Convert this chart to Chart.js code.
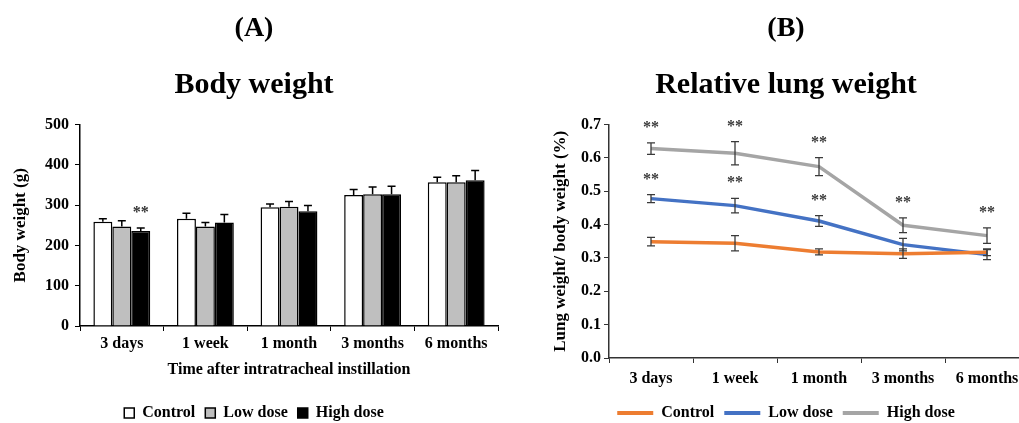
<!DOCTYPE html>
<html>
<head>
<meta charset="utf-8">
<script src="https://cdn.jsdelivr.net/npm/chart.js@4.4.1/dist/chart.umd.min.js"></script>
<style>
  html, body { margin: 0; padding: 0; background: #fff; }
  body { width: 1019px; height: 423px; overflow: hidden; position: relative; }
  .panel { position: absolute; top: 0; height: 431px; }
  #panelA { left: 0; width: 510px; }
  #panelB { left: 520px; width: 532px; }
</style>
</head>
<body>
<div class="panel" id="panelA"><canvas id="bodyChart"></canvas></div>
<div class="panel" id="panelB"><canvas id="lungChart"></canvas></div>
<script>
// categories (time after instillation)
const categories = ['3 days', '1 week', '1 month', '3 months', '6 months'];

// (A) body weight, g
const bwControl = [259, 266, 295, 325, 357];
const bwLow = [247, 247, 296, 327, 357];
const bwHigh = [236, 257, 285, 327, 362];
const bwControlSd = [7, 14, 8, 14, 12];
const bwLowSd = [14, 10, 13, 18, 16];
const bwHighSd = [7, 20, 14, 20, 24];
const bwHighStars = [true, false, false, false, false];
const bwTicks = [0, 100, 200, 300, 400, 500];

// (B) relative lung weight, %
const rlwControl = [0.349, 0.344, 0.318, 0.313, 0.317];
const rlwLow = [0.478, 0.457, 0.411, 0.340, 0.310];
const rlwHigh = [0.628, 0.614, 0.574, 0.398, 0.367];
const rlwControlSd = [0.013, 0.023, 0.009, 0.014, 0.010];
const rlwLowSd = [0.012, 0.022, 0.016, 0.019, 0.015];
const rlwHighSd = [0.017, 0.035, 0.027, 0.022, 0.023];
const rlwLowStars = [true, true, true, false, false];
const rlwHighStars = [true, true, true, true, true];
const rlwTicks = [0, 0.1, 0.2, 0.3, 0.4, 0.5, 0.6, 0.7];

Chart.defaults.font.family = "'Liberation Serif', 'Times New Roman', serif";
Chart.defaults.font.weight = 'bold';
Chart.defaults.color = '#000';
Chart.defaults.animation = false;

// draws SD whiskers and ** marks from dataset.errors / dataset.stars
const errorBars = {
    id: 'errorBars',
    afterDatasetsDraw(chart, args, opts) {
        const ctx = chart.ctx;
        const y = chart.scales.y;
        ctx.save();
        chart.data.datasets.forEach((ds, i) => {
            const meta = chart.getDatasetMeta(i);
            meta.data.forEach((el, j) => {
                const v = ds.data[j];
                const e = ds.errors[j];
                const top = y.getPixelForValue(v + e);
                const bottom = opts.both ? y.getPixelForValue(v - e) : el.y;
                ctx.strokeStyle = opts.color;
                ctx.lineWidth = opts.width;
                ctx.beginPath();
                ctx.moveTo(el.x, top);
                ctx.lineTo(el.x, bottom);
                ctx.moveTo(el.x - opts.cap, top);
                ctx.lineTo(el.x + opts.cap, top);
                if (opts.both) {
                    ctx.moveTo(el.x - opts.cap, bottom);
                    ctx.lineTo(el.x + opts.cap, bottom);
                }
                ctx.stroke();
                if (ds.stars && ds.stars[j]) {
                    ctx.fillStyle = opts.starColor;
                    ctx.font = "bold 16px 'Liberation Serif', serif";
                    ctx.textAlign = 'center';
                    ctx.textBaseline = 'middle';
                    ctx.fillText('**', el.x, top - 15);
                }
            });
        });
        ctx.restore();
    }
};

function fixWidth(w) { return scale => { scale.width = w; }; }
function fixHeight(h) { return scale => { scale.height = h; }; }

const noLine = chart => Chart.defaults.plugins.legend.labels.generateLabels(chart)
    .map(l => Object.assign(l, { lineWidth: 0 }));

new Chart(document.getElementById('bodyChart'), {
    type: 'bar',
    data: {
        labels: categories,
        datasets: [
            { label: 'Control', data: bwControl, errors: bwControlSd, backgroundColor: '#ffffff' },
            { label: 'Low dose', data: bwLow, errors: bwLowSd, backgroundColor: '#bfbfbf' },
            { label: 'High dose', data: bwHigh, errors: bwHighSd, stars: bwHighStars, backgroundColor: '#000000' }
        ]
    },
    options: {
        responsive: true,
        maintainAspectRatio: false,
        layout: { padding: { left: 10, right: 12, top: 0, bottom: 0 } },
        datasets: { bar: { borderColor: '#000', borderWidth: 1.5, categoryPercentage: 0.68, barPercentage: 1 } },
        plugins: {
            title: { display: true, text: '(A)', font: { size: 28 }, padding: { top: 12, bottom: 22 } },
            subtitle: { display: true, text: 'Body weight', color: '#000', font: { size: 30, weight: 'bold' }, padding: { top: 0, bottom: 21 } },
            legend: {
                position: 'bottom',
                labels: { boxWidth: 10, boxHeight: 10, padding: 10, font: { size: 16 } }
            },
            tooltip: { enabled: false },
            errorBars: { both: false, color: '#000', width: 1.5, cap: 4, starColor: '#333' }
        },
        scales: {
            x: {
                afterFit: fixHeight(69),
                grid: { drawOnChartArea: false, color: '#000', tickLength: 5, offset: true },
                border: { color: '#000', width: 1.5 },
                ticks: { font: { size: 16 }, padding: 3, maxRotation: 0 },
                title: { display: true, text: 'Time after intratracheal instillation', font: { size: 16 }, padding: { top: 0, bottom: 16 } }
            },
            y: {
                min: 0,
                max: 500,
                afterFit: fixWidth(70),
                afterBuildTicks: scale => { scale.ticks = bwTicks.map(v => ({ value: v })); },
                grid: { drawOnChartArea: false, color: '#000', tickLength: 5 },
                border: { color: '#000', width: 1.5 },
                ticks: { font: { size: 16 }, padding: 6 },
                title: { display: true, text: 'Body weight (g)', font: { size: 17 }, padding: { top: 0, bottom: 0 } }
            }
        }
    },
    plugins: [errorBars]
});

new Chart(document.getElementById('lungChart'), {
    type: 'line',
    data: {
        labels: categories,
        datasets: [
            { label: 'Control', data: rlwControl, errors: rlwControlSd, borderColor: '#ed7d31', backgroundColor: '#ed7d31' },
            { label: 'Low dose', data: rlwLow, errors: rlwLowSd, stars: rlwLowStars, borderColor: '#4472c4', backgroundColor: '#4472c4' },
            { label: 'High dose', data: rlwHigh, errors: rlwHighSd, stars: rlwHighStars, borderColor: '#a5a5a5', backgroundColor: '#a5a5a5' }
        ]
    },
    options: {
        responsive: true,
        maintainAspectRatio: false,
        layout: { padding: { left: 23, right: 23, top: 0, bottom: 0 } },
        datasets: { line: { borderWidth: 3.5, pointRadius: 0, tension: 0, fill: false, borderJoinStyle: 'round' } },
        plugins: {
            title: { display: true, text: '(B)', font: { size: 28 }, padding: { top: 12, bottom: 22 } },
            subtitle: { display: true, text: 'Relative lung weight', color: '#000', font: { size: 30, weight: 'bold' }, padding: { top: 0, bottom: 21 } },
            legend: {
                position: 'bottom',
                labels: { boxWidth: 36, boxHeight: 4, padding: 10, font: { size: 16 }, generateLabels: noLine }
            },
            tooltip: { enabled: false },
            errorBars: { both: true, color: '#3a3a3a', width: 1.3, cap: 4, starColor: '#3a3a3a' }
        },
        scales: {
            x: {
                offset: true,
                afterFit: fixHeight(37),
                grid: { drawOnChartArea: false, color: '#333', tickLength: 5, offset: true },
                border: { color: '#333', width: 1.5 },
                ticks: { font: { size: 16 }, padding: 6, maxRotation: 0 }
            },
            y: {
                min: 0,
                max: 0.7,
                afterFit: fixWidth(66),
                afterBuildTicks: scale => { scale.ticks = rlwTicks.map(v => ({ value: v })); },
                grid: { drawOnChartArea: false, color: '#333', tickLength: 5 },
                border: { color: '#333', width: 1.5 },
                ticks: { font: { size: 16 }, padding: 3, callback: v => v.toFixed(1) },
                title: { display: true, text: 'Lung weight/ body weight (%)', font: { size: 17 }, padding: { top: 7, bottom: 0 } }
            }
        }
    },
    plugins: [errorBars]
});
</script>
</body>
</html>
